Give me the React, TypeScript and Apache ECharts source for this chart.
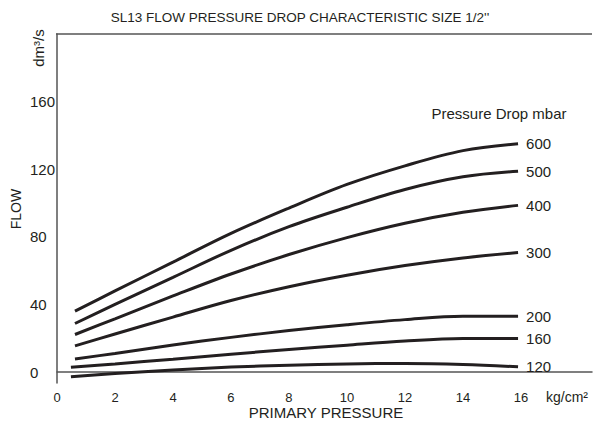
import React, { useEffect, useRef } from "react";
import * as echarts from "echarts";

const pressureX = [0.62, 2, 4, 6, 8, 10, 12, 14, 15.9];
const pressureXLow = [0.48, 2, 4, 6, 8, 10, 12, 14, 15.9];

const seriesNames = ["600", "500", "400", "300", "200", "160", "120"];
const flow600 = [36, 48, 65, 82, 97, 111, 122, 131, 135];
const flow500 = [28.7, 40, 56, 72, 86, 97.5, 108, 115.5, 118.8];
const flow400 = [22.2, 31.5, 45, 58, 69.5, 79.5, 88, 94.5, 98.6];
const flow300 = [15.5, 22.5, 32.5, 42.3, 50.5, 57.3, 63, 67.5, 70.7];
const flow200 = [7.7, 11, 16, 20.5, 24.5, 28, 31, 33, 33];
const flow160 = [2.8, 4.8, 7.6, 10.5, 13.3, 15.9, 18.3, 19.8, 19.9];
const flow120 = [-2.8, -0.9, 1.2, 2.9, 4.0, 4.8, 5.1, 4.5, 3.1];

const xTickLabels = [0, 2, 4, 6, 8, 10, 12, 14, 16];
const yTickLabels = [0, 40, 80, 120, 160];

const FONT = "'Liberation Sans', Arial, Helvetica, sans-serif";
const INK = "#231f20";

export default function App() {
  const ref = useRef<HTMLDivElement>(null);

  useEffect(() => {
    document.body.style.margin = "0";
    if (!ref.current) return;
    const chart = echarts.init(ref.current, null, { renderer: "svg" });
    const allFlows = [flow600, flow500, flow400, flow300, flow200, flow160, flow120];
    const series = allFlows.map((vals, i) => {
      const xs = i >= 5 ? pressureXLow : pressureX;
      return {
        name: seriesNames[i],
        type: "line",
        smooth: 0.35,
        symbol: "none",
        data: vals.map((v, j) => [xs[j], v]),
        lineStyle: { color: INK, width: 3 },
        endLabel: {
          show: true,
          formatter: "{a}",
          distance: 8,
          fontSize: 15,
          color: INK,
          fontFamily: FONT,
        },
      };
    });

    const txt = (x: number, y: number, text: string, fontSize: number, rot = 0) => ({
      type: "text",
      x,
      y,
      rotation: rot,
      style: {
        text,
        fontSize,
        fill: INK,
        fontFamily: FONT,
        align: "center",
        verticalAlign: "middle",
      },
    });

    chart.setOption({
      animation: false,
      textStyle: { fontFamily: FONT },
      grid: { left: 57, right: 1, top: 34, bottom: 38, containLabel: false },
      xAxis: {
        type: "value",
        min: 0,
        max: 18.45,
        splitLine: { show: false },
        axisTick: { show: false },
        axisLine: { show: true, lineStyle: { color: "#555", width: 1.5 } },
        axisLabel: {
          customValues: xTickLabels,
          fontSize: 13,
          color: INK,
          margin: 8,
          fontFamily: FONT,
        },
      },
      yAxis: {
        type: "value",
        min: -6.5,
        max: 200,
        splitLine: { show: false },
        axisTick: { show: false },
        axisLine: { show: true, lineStyle: { color: "#555", width: 1.5 } },
        axisLabel: {
          customValues: yTickLabels,
          fontSize: 15,
          color: INK,
          align: "left",
          margin: 27,
          fontFamily: FONT,
        },
      },
      graphic: [
        {
          type: "line",
          shape: { x1: 56, y1: 34, x2: 592, y2: 34 },
          style: { stroke: "#555", lineWidth: 1.5 },
        },
        txt(300, 17, "SL13 FLOW PRESSURE DROP CHARACTERISTIC SIZE 1/2''", 13.5),
        txt(38, 48, "dm³/s", 15, Math.PI / 2),
        txt(15.5, 209, "FLOW", 14, Math.PI / 2),
        txt(326, 412, "PRIMARY PRESSURE", 15),
        txt(567, 397, "kg/cm²", 14),
        txt(499, 113, "Pressure Drop mbar", 15),
      ],
      series,
    });
    return () => chart.dispose();
  }, []);

  return <div ref={ref} style={{ width: 593, height: 421 }} />;
}
